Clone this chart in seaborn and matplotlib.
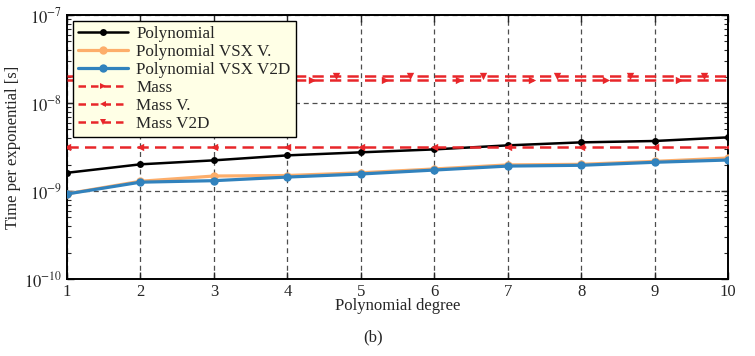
import numpy as np
import pandas as pd
import matplotlib
matplotlib.use("Agg")
import matplotlib.pyplot as plt
from matplotlib.lines import Line2D
from matplotlib.ticker import LogLocator, NullLocator, FixedLocator
import seaborn as sns

degrees = [1, 2, 3, 4, 5, 6, 7, 8, 9, 10]
poly = [1.61e-9, 2.01e-9, 2.23e-9, 2.54e-9, 2.75e-9, 2.97e-9, 3.30e-9, 3.57e-9, 3.70e-9, 4.07e-9]
poly_vsx_v = [9.3e-10, 1.29e-9, 1.48e-9, 1.50e-9, 1.61e-9, 1.78e-9, 1.98e-9, 2.01e-9, 2.17e-9, 2.37e-9]
poly_vsx_v2d = [9.25e-10, 1.26e-9, 1.31e-9, 1.44e-9, 1.56e-9, 1.73e-9, 1.92e-9, 1.96e-9, 2.12e-9, 2.25e-9]
mass = 1.81e-8
mass_v = 3.18e-9
mass_v2d = 2.03e-8
labels = ["Polynomial", "Polynomial VSX V.", "Polynomial VSX V2D", "Mass", "Mass V.", "Mass V2D"]
xticks = degrees
yticks = [1e-10, 1e-9, 1e-8, 1e-7]
ylabel = "Time per exponential [s]"
xlabel = "Polynomial degree"
caption = "(b)"

sns.set_style("ticks")
plt.rcParams["font.family"] = ["Liberation Serif", "DejaVu Serif"]
plt.rcParams["mathtext.fontset"] = "stix"
plt.rcParams["font.size"] = 12

c_black = "black"
c_orange = "#fdae6b"
c_blue = "#3182bd"
c_red = "#e8262a"

fig = plt.figure(figsize=(7.55, 3.56), dpi=100)
ax = fig.add_axes([67 / 755, 1 - 279 / 356, (728 - 67) / 755, (279 - 15) / 356])

df = pd.DataFrame({"deg": degrees, "p": poly, "pv": poly_vsx_v, "pv2": poly_vsx_v2d})

sns.lineplot(data=df, x="deg", y="p", ax=ax, color=c_black, marker="o", markersize=5,
             markeredgewidth=0, linewidth=1.8, zorder=3)
sns.lineplot(data=df, x="deg", y="pv", ax=ax, color=c_orange, marker="o", markersize=6,
             markeredgewidth=0, linewidth=2.3, zorder=3)
sns.lineplot(data=df, x="deg", y="pv2", ax=ax, color=c_blue, marker="o", markersize=6,
             markeredgewidth=0, linewidth=2.3, zorder=3)

mass_specs = [(mass, ">", 1 / 3), (mass_v, "<", 0.0), (mass_v2d, "v", 2 / 3)]
for val, mk, off in mass_specs:
    mdf = pd.DataFrame({"deg": degrees, "t": [val] * len(degrees)})
    sns.lineplot(data=mdf, x="deg", y="t", ax=ax, color=c_red, linewidth=1.8,
                 linestyle=(0, (4.5, 2.5)), zorder=4)
    mx = [d + off for d in degrees if d + off <= degrees[-1]]
    sdf = pd.DataFrame({"deg": mx, "t": [val] * len(mx)})
    sns.scatterplot(data=sdf, x="deg", y="t", ax=ax, color=c_red, marker=mk, s=28,
                    linewidth=0, zorder=5, clip_on=True)

ax.set_yscale("log")
ax.set_ylim(yticks[0], yticks[-1])
ax.set_xlim(degrees[0], degrees[-1])
ax.set_xticks(xticks)
ax.set_xticklabels([str(v) for v in xticks])
ax.xaxis.set_minor_locator(NullLocator())
ax.yaxis.set_major_locator(FixedLocator(yticks))
ax.set_yticklabels([r"$10^{%d}$" % int(round(np.log10(v))) for v in yticks])
ax.yaxis.set_minor_locator(LogLocator(base=10, subs=np.arange(2, 10), numticks=20))

ax.grid(True, which="major", color="0.3", linestyle=(0, (4, 3)), linewidth=0.9)
ax.tick_params(which="both", direction="in", top=True, right=True, labelsize=12)
ax.tick_params(which="major", length=5, width=1.0)
ax.tick_params(which="minor", length=3, width=0.8)
for s in ax.spines.values():
    s.set_linewidth(1.4)
    s.set_color("black")

ax.set_xlabel(xlabel, fontsize=12, labelpad=-1)
ax.set_ylabel(ylabel, fontsize=12, labelpad=2)

handles = [
    Line2D([], [], color=c_black, marker="o", markersize=5, markeredgewidth=0, linewidth=1.8),
    Line2D([], [], color=c_orange, marker="o", markersize=6, markeredgewidth=0, linewidth=2.3),
    Line2D([], [], color=c_blue, marker="o", markersize=6, markeredgewidth=0, linewidth=2.3),
    Line2D([], [], color=c_red, marker=">", markersize=5, markeredgewidth=0, linewidth=1.8, linestyle=(0, (3, 2))),
    Line2D([], [], color=c_red, marker="<", markersize=5, markeredgewidth=0, linewidth=1.8, linestyle=(0, (3, 2))),
    Line2D([], [], color=c_red, marker="v", markersize=5, markeredgewidth=0, linewidth=1.8, linestyle=(0, (3, 2))),
]
leg = ax.legend(handles, labels, loc="upper left", bbox_to_anchor=(0.0, 1.0),
                fontsize=12.3, frameon=True, fancybox=False, framealpha=1,
                facecolor="#ffffe6", edgecolor="black", labelspacing=0.12,
                handlelength=2.9, handletextpad=0.5, borderpad=0.3, borderaxespad=0.35)
leg.get_frame().set_linewidth(1.0)
leg.set_zorder(10)

fig.text(373 / 755, 1 - 337 / 356, caption, ha="center", va="center", fontsize=12)

fig.savefig("out.png", dpi=100)
